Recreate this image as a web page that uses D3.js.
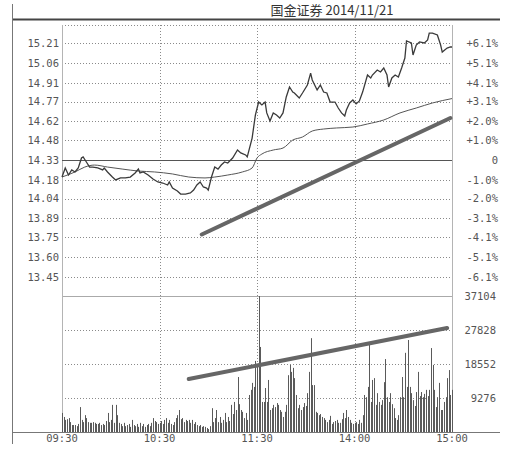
<!DOCTYPE html>
<html><head><meta charset="utf-8">
<script src="https://cdn.jsdelivr.net/npm/d3@7"></script>
<style>
html,body{margin:0;padding:0;background:#fff;}
svg{display:block;}
text{font-family:"DejaVu Sans Mono",monospace;fill:#555;}
</style></head>
<body>
<script>
const title = "国金证券 2014/11/21";
const priceTicks = [15.21,15.06,14.91,14.77,14.62,14.48,14.33,14.18,14.04,13.89,13.75,13.60,13.45];
const priceTickLabels = ["15.21","15.06","14.91","14.77","14.62","14.48","14.33","14.18","14.04","13.89","13.75","13.60","13.45"];
const pctLabels = ["+6.1%","+5.1%","+4.1%","+3.1%","+2.0%","+1.0%","0","-1.0%","-2.0%","-3.1%","-4.1%","-5.1%","-6.1%"];
const prevClose = 14.33;
const volTicks = [37104,27828,18552,9276];
const timeTicks = [0,60,120,180,240];
const timeLabels = ["09:30","10:30","11:30","14:00","15:00"];

// minute index of each traced price point, price
const priceMin = [0,2,4,6,8,10,12,13,15,17,19,22,25,26,28,31,33,36,39,42,45,47,48,50,53,56,59,62,65,66,68,71,73,76,79,81,83,85,87,89,90,92,94,96,98,100,102,105,108,110,113,114,117,119,121,123,125,126,128,130,132,134,136,138,140,142,143,146,148,151,153,154,157,159,161,163,165,168,170,172,174,175,177,179,181,183,185,188,190,191,194,196,198,200,201,203,205,207,209,211,212,215,216,218,220,223,225,226,228,231,233,234,237,239,240];
const priceVal = [14.202,14.270,14.217,14.255,14.240,14.270,14.345,14.353,14.315,14.277,14.277,14.270,14.255,14.270,14.240,14.202,14.180,14.195,14.195,14.202,14.232,14.262,14.232,14.240,14.217,14.187,14.165,14.157,14.142,14.165,14.119,14.097,14.074,14.074,14.082,14.104,14.142,14.165,14.127,14.119,14.104,14.202,14.277,14.262,14.292,14.315,14.307,14.345,14.405,14.383,14.368,14.353,14.495,14.668,14.766,14.744,14.766,14.684,14.623,14.684,14.668,14.646,14.684,14.804,14.879,14.841,14.834,14.796,14.834,14.894,14.984,14.932,14.857,14.894,14.841,14.834,14.766,14.766,14.721,14.684,14.661,14.706,14.759,14.781,14.752,14.774,14.841,14.969,14.947,14.969,15.007,14.992,15.022,14.969,14.879,14.947,14.969,14.954,15.022,15.097,15.225,15.210,15.120,15.195,15.218,15.210,15.233,15.285,15.285,15.270,15.195,15.142,15.172,15.180,15.180];

const avgMin = [0,8,14,20,28,37,47,57,68,78,88,94,102,111,117,120,123,130,136,142,148,154,161,169,179,188,198,208,218,228,240];
const avgVal = [14.202,14.240,14.277,14.292,14.277,14.262,14.247,14.240,14.225,14.202,14.195,14.202,14.217,14.240,14.270,14.345,14.375,14.405,14.420,14.480,14.503,14.548,14.563,14.571,14.578,14.601,14.631,14.684,14.721,14.759,14.792];

// per-minute volume, minutes 0..240
const volumes = [5200,4100,3300,3500,3800,2700,1900,1900,1900,1600,2200,6800,3300,2700,4600,3800,2700,2500,2500,2700,
2500,2200,2200,2500,1900,2200,1900,3000,5200,2700,3300,7400,2500,7400,4600,2500,2200,1600,2500,1600,
1900,2200,1400,3300,1900,1600,2200,1400,2500,1600,2200,1400,1900,2200,1600,2500,3800,3000,2700,2200,
2500,3000,2200,3300,3800,2500,3300,2200,1900,2700,3800,4600,6000,3500,3800,2700,3300,3000,3300,2500,
3300,2200,2700,1900,1600,1900,1400,1600,1400,1100,800,1600,6500,2700,3800,6000,2700,4100,2500,3300,
5200,2700,4100,3000,7400,4900,8200,6000,15000,7600,6000,5500,3800,5200,3300,10100,11500,13400,12300,19400,
18300,37104,23200,8200,8200,12000,8200,14200,6000,6500,7400,6800,7900,7400,6000,5500,4100,5500,7400,15500,
18300,16400,17500,14700,10100,6500,7400,6000,6800,7900,7100,10600,16400,25600,12800,12800,5500,5200,4600,4900,
4100,3800,3300,2700,3300,4400,2200,2700,3000,3300,2500,2500,3500,5200,3800,6000,4100,3300,2500,2200,
2500,2700,2200,3300,2500,4600,10100,9500,12300,24300,8200,14200,14700,7400,10600,8200,7400,8700,13600,19900,
9500,8200,10600,7600,6500,3800,3300,4600,9500,15000,9500,21600,12300,25100,12300,10600,8700,7100,10900,16400,
9800,10900,9500,10400,11500,9800,11500,22900,18300,11500,6800,9500,13400,6000,6000,8200,9500,14700,16900,10100,
11500];

const priceTrend = [{t:86,p:13.77},{t:239,p:14.646}];
const volTrend = [{t:78,v:14460},{t:237,v:28374}];

const W = 516, H = 449;
const svg = d3.select("body").append("svg").attr("width",W).attr("height",H);

const x = d3.scaleLinear().domain([0,240]).range([62,452]);
const yP = d3.scaleLinear().domain([13.45,15.21]).range([277,43]);
const yV = d3.scaleLinear().domain([0,37104]).range([432,296]);
const L = 62, R = 452, PT = 25, PB = 296, VB = 432;

// frame lines
svg.append("line").attr("x1",12).attr("x2",500).attr("y1",19.5).attr("y2",19.5).attr("stroke","#444").attr("stroke-width",2);
svg.append("line").attr("x1",12.5).attr("x2",12.5).attr("y1",4).attr("y2",444).attr("stroke","#777").attr("stroke-width",1);
svg.append("text").attr("x",332).attr("y",15).attr("text-anchor","middle")
  .style("font-family","'Noto Sans CJK SC',sans-serif").style("font-size","13px").style("fill","#333").text(title);

const g = svg.append("g");
const dotted = sel => sel.attr("stroke","#8a8a8a").attr("stroke-width",1).attr("stroke-dasharray","1,2");

// price horizontal grid
priceTicks.forEach((v,i)=>{
  const yy = Math.round(yP(v))+0.5;
  if (v === prevClose) return;
  dotted(g.append("line").attr("x1",L).attr("x2",R).attr("y1",yy).attr("y2",yy));
});
dotted(g.append("line").attr("x1",L).attr("x2",R).attr("y1",PT+0.5).attr("y2",PT+0.5));
// volume grid
volTicks.forEach((v,i)=>{
  const yy = Math.round(yV(v))+0.5;
  if (i===0) g.append("line").attr("x1",L).attr("x2",R).attr("y1",yy).attr("y2",yy).attr("stroke","#aaa");
  else dotted(g.append("line").attr("x1",L).attr("x2",R).attr("y1",yy).attr("y2",yy));
});
// vertical grid
timeTicks.forEach((t,i)=>{
  const xx = Math.round(x(t))+0.5;
  if (i===0 || i===timeTicks.length-1) g.append("line").attr("x1",xx).attr("x2",xx).attr("y1",PT).attr("y2",VB).attr("stroke","#b4b4b4");
  else dotted(g.append("line").attr("x1",xx).attr("x2",xx).attr("y1",PT).attr("y2",VB));
});
// zero line
const zy = Math.round(yP(prevClose))+0.5;
g.append("line").attr("x1",L).attr("x2",R).attr("y1",zy).attr("y2",zy).attr("stroke","#555").attr("stroke-width",1);

// labels
const lab = svg.append("g").style("font-size","10.5px");
priceTicks.forEach((v,i)=>{
  lab.append("text").attr("x",59).attr("y",yP(v)).attr("dy","0.35em").attr("text-anchor","end").text(priceTickLabels[i]);
  lab.append("text").attr("x",498).attr("y",yP(v)).attr("dy","0.35em").attr("text-anchor","end").text(pctLabels[i]);
});
volTicks.forEach(v=>{
  lab.append("text").attr("x",496).attr("y",yV(v)).attr("dy","0.35em").attr("text-anchor","end").text(v);
});
timeTicks.forEach((t,i)=>{
  lab.append("text").attr("x",x(t)).attr("y",442).attr("text-anchor","middle").text(timeLabels[i]);
});

// volume bars
svg.append("g").selectAll("rect").data(volumes).join("rect")
  .attr("x",(d,i)=>Math.round(x(i))).attr("width",1)
  .attr("y",d=>yV(d)).attr("height",d=>VB-yV(d)).attr("fill","#5a5a5a");

// axis line
svg.append("line").attr("x1",12).attr("x2",500).attr("y1",VB+0.5).attr("y2",VB+0.5).attr("stroke","#777");

// avg line
const avgData = avgMin.map((m,i)=>({t:m,p:avgVal[i]}));
svg.append("path").datum(avgData).attr("fill","none").attr("stroke","#555").attr("stroke-width",1)
  .attr("d",d3.line().x(d=>x(d.t)).y(d=>yP(d.p)).curve(d3.curveMonotoneX));
// price line
const priceData = priceMin.map((m,i)=>({t:m,p:priceVal[i]}));
svg.append("path").datum(priceData).attr("fill","none").attr("stroke","#3a3a3a").attr("stroke-width",1.3)
  .attr("d",d3.line().x(d=>x(d.t)).y(d=>yP(d.p)));

// trend lines
svg.append("path").datum(priceTrend).attr("fill","none").attr("stroke","#666").attr("stroke-width",4).attr("stroke-linecap","round")
  .attr("d",d3.line().x(d=>x(d.t)).y(d=>yP(d.p)));
svg.append("path").datum(volTrend).attr("fill","none").attr("stroke","#666").attr("stroke-width",4).attr("stroke-linecap","round")
  .attr("d",d3.line().x(d=>x(d.t)).y(d=>yV(d.v)));
</script>
</body></html>
